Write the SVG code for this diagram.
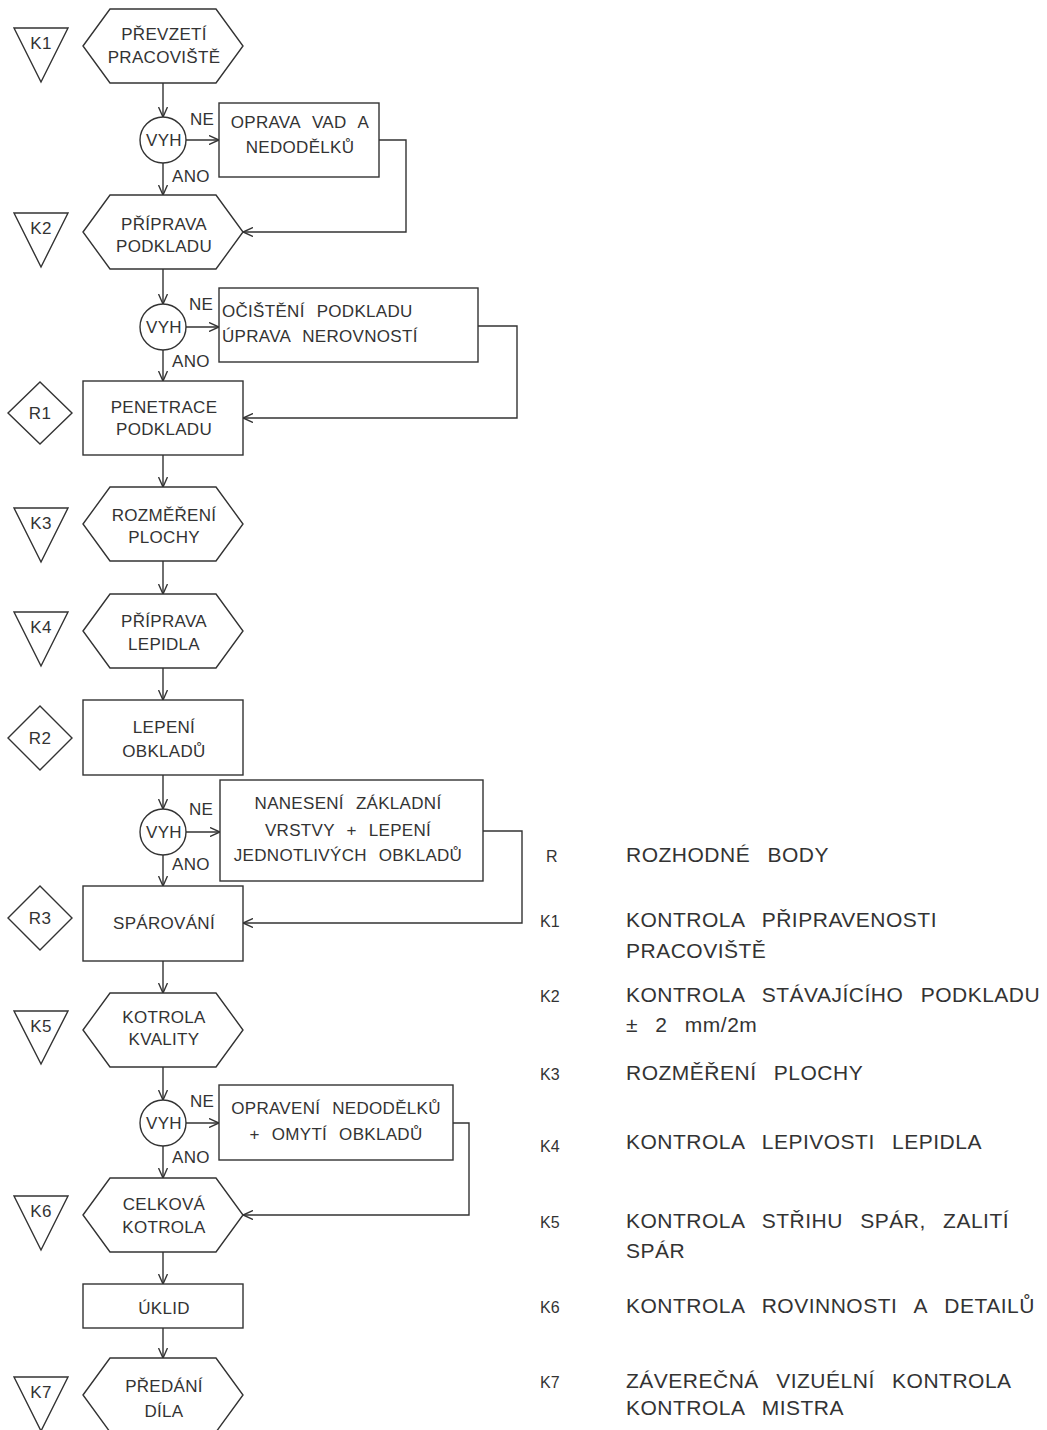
<svg xmlns="http://www.w3.org/2000/svg" width="1047" height="1430" viewBox="0 0 1047 1430">
<style>
.s{fill:#fff;stroke:#333;stroke-width:1.4}
.ln{fill:none;stroke:#333;stroke-width:1.4}
.t{font-family:"Liberation Sans",Arial,sans-serif;font-size:17px;fill:#333;text-anchor:middle;word-spacing:7px;letter-spacing:0.3px}
.l{text-anchor:start}
.lg{font-family:"Liberation Sans",Arial,sans-serif;font-size:21px;fill:#333;word-spacing:11px;letter-spacing:0.5px}
.lk{font-family:"Liberation Sans",Arial,sans-serif;font-size:16px;fill:#333}
</style>
<defs>
<marker id="a" viewBox="0 0 10 10" refX="10" refY="5" markerWidth="10" markerHeight="10" markerUnits="userSpaceOnUse" orient="auto">
<path d="M0,0.5 L10,5 L0,9.5" fill="none" stroke="#333" stroke-width="1.4"/>
</marker>
</defs>
<rect width="1047" height="1430" fill="#fff"/>
<g id="connectors" class="ln" marker-end="url(#a)">
<path d="M163,83 V117"/>
<path d="M186,140 H219"/>
<path d="M163,163 V195"/>
<path d="M379,140 H406 V232 H243"/>
<path d="M163,269 V304"/>
<path d="M186,327 H219"/>
<path d="M163,350 V381"/>
<path d="M478,326 H517 V418 H243"/>
<path d="M163,455 V487"/>
<path d="M163,561 V594"/>
<path d="M163,668 V700"/>
<path d="M163,775 V809"/>
<path d="M186,832 H220"/>
<path d="M163,855 V886"/>
<path d="M483,831 H522 V923 H243"/>
<path d="M163,961 V993"/>
<path d="M163,1067 V1100"/>
<path d="M186,1123 H219"/>
<path d="M163,1146 V1178"/>
<path d="M453,1123 H469 V1215 H243"/>
<path d="M163,1252 V1284"/>
<path d="M163,1328 V1358"/>
</g>
<g id="n-prevzeti"><polygon class="s" points="83,46 110,9 216,9 243,46 216,83 110,83"/><text class="t" x="164" y="40">PŘEVZETÍ</text><text class="t" x="164" y="63">PRACOVIŠTĚ</text></g>
<g id="k1"><polygon class="s" points="14,28 68,28 41,82"/><text class="t" x="41" y="49">K1</text></g>
<g id="vyh1"><circle class="s" cx="163" cy="140" r="23"/><text class="t" x="164" y="146">VYH</text><text class="t l" x="190" y="125">NE</text><text class="t l" x="172" y="182">ANO</text></g>
<g id="n-oprava"><rect class="s" x="219" y="103" width="160" height="74"/><text class="t" x="300" y="128">OPRAVA VAD A</text><text class="t" x="300" y="153">NEDODĚLKŮ</text></g>
<g id="n-priprava-podkladu"><polygon class="s" points="83,232 110,195 216,195 243,232 216,269 110,269"/><text class="t" x="164" y="230">PŘÍPRAVA</text><text class="t" x="164" y="252">PODKLADU</text></g>
<g id="k2"><polygon class="s" points="14,213 68,213 41,267"/><text class="t" x="41" y="234">K2</text></g>
<g id="vyh2"><circle class="s" cx="163" cy="327" r="23"/><text class="t" x="164" y="333">VYH</text><text class="t l" x="189" y="310">NE</text><text class="t l" x="172" y="367">ANO</text></g>
<g id="n-ocisteni"><rect class="s" x="219" y="288" width="259" height="74"/><text class="t l" x="222" y="317">OČIŠTĚNÍ PODKLADU</text><text class="t l" x="222" y="342">ÚPRAVA NEROVNOSTÍ</text></g>
<g id="n-penetrace"><rect class="s" x="83" y="381" width="160" height="74"/><text class="t" x="164" y="413">PENETRACE</text><text class="t" x="164" y="435">PODKLADU</text></g>
<g id="r1"><polygon class="s" points="8,413 40,382 72,413 40,444"/><text class="t" x="40" y="419">R1</text></g>
<g id="n-rozmereni"><polygon class="s" points="83,524 110,487 216,487 243,524 216,561 110,561"/><text class="t" x="164" y="521">ROZMĚŘENÍ</text><text class="t" x="164" y="543">PLOCHY</text></g>
<g id="k3"><polygon class="s" points="14,508 68,508 41,562"/><text class="t" x="41" y="529">K3</text></g>
<g id="n-priprava-lepidla"><polygon class="s" points="83,631 110,594 216,594 243,631 216,668 110,668"/><text class="t" x="164" y="627">PŘÍPRAVA</text><text class="t" x="164" y="650">LEPIDLA</text></g>
<g id="k4"><polygon class="s" points="14,612 68,612 41,666"/><text class="t" x="41" y="633">K4</text></g>
<g id="n-lepeni"><rect class="s" x="83" y="700" width="160" height="75"/><text class="t" x="164" y="733">LEPENÍ</text><text class="t" x="164" y="757">OBKLADŮ</text></g>
<g id="r2"><polygon class="s" points="8,738 40,706 72,738 40,770"/><text class="t" x="40" y="744">R2</text></g>
<g id="vyh3"><circle class="s" cx="163" cy="832" r="23"/><text class="t" x="164" y="838">VYH</text><text class="t l" x="189" y="815">NE</text><text class="t l" x="172" y="870">ANO</text></g>
<g id="n-naneseni"><rect class="s" x="220" y="780" width="263" height="101"/><text class="t" x="348" y="809">NANESENÍ ZÁKLADNÍ</text><text class="t" x="348" y="836">VRSTVY + LEPENÍ</text><text class="t" x="348" y="861">JEDNOTLIVÝCH OBKLADŮ</text></g>
<g id="n-sparovani"><rect class="s" x="83" y="886" width="160" height="75"/><text class="t" x="164" y="929">SPÁROVÁNÍ</text></g>
<g id="r3"><polygon class="s" points="8,918 40,886 72,918 40,950"/><text class="t" x="40" y="924">R3</text></g>
<g id="n-kotrola-kvality"><polygon class="s" points="83,1030 110,993 216,993 243,1030 216,1067 110,1067"/><text class="t" x="164" y="1023">KOTROLA</text><text class="t" x="164" y="1045">KVALITY</text></g>
<g id="k5"><polygon class="s" points="14,1011 68,1011 41,1064"/><text class="t" x="41" y="1032">K5</text></g>
<g id="vyh4"><circle class="s" cx="163" cy="1123" r="23"/><text class="t" x="164" y="1129">VYH</text><text class="t l" x="190" y="1107">NE</text><text class="t l" x="172" y="1163">ANO</text></g>
<g id="n-opraveni"><rect class="s" x="219" y="1085" width="234" height="75"/><text class="t" x="336" y="1114">OPRAVENÍ NEDODĚLKŮ</text><text class="t" x="336" y="1140">+ OMYTÍ OBKLADŮ</text></g>
<g id="n-celkova"><polygon class="s" points="83,1215 110,1178 216,1178 243,1215 216,1252 110,1252"/><text class="t" x="164" y="1210">CELKOVÁ</text><text class="t" x="164" y="1233">KOTROLA</text></g>
<g id="k6"><polygon class="s" points="14,1196 68,1196 41,1250"/><text class="t" x="41" y="1217">K6</text></g>
<g id="n-uklid"><rect class="s" x="83" y="1284" width="160" height="44"/><text class="t" x="164" y="1314">ÚKLID</text></g>
<g id="n-predani"><polygon class="s" points="83,1395 110,1358 216,1358 243,1395 216,1432 110,1432"/><text class="t" x="164" y="1392">PŘEDÁNÍ</text><text class="t" x="164" y="1417">DÍLA</text></g>
<g id="k7"><polygon class="s" points="14,1377 68,1377 41,1431"/><text class="t" x="41" y="1398">K7</text></g>
<g id="legend">
<text class="lk" x="546" y="862">R</text><text class="lg" x="626" y="862">ROZHODNÉ BODY</text>
<text class="lk" x="540" y="927">K1</text><text class="lg" x="626" y="927">KONTROLA PŘIPRAVENOSTI</text><text class="lg" x="626" y="958">PRACOVIŠTĚ</text>
<text class="lk" x="540" y="1002">K2</text><text class="lg" x="626" y="1002">KONTROLA STÁVAJÍCÍHO PODKLADU</text><text class="lg" x="626" y="1032">± 2 mm/2m</text>
<text class="lk" x="540" y="1080">K3</text><text class="lg" x="626" y="1080">ROZMĚŘENÍ PLOCHY</text>
<text class="lk" x="540" y="1152">K4</text><text class="lg" x="626" y="1149">KONTROLA LEPIVOSTI LEPIDLA</text>
<text class="lk" x="540" y="1228">K5</text><text class="lg" x="626" y="1228">KONTROLA STŘIHU SPÁR, ZALITÍ</text><text class="lg" x="626" y="1258">SPÁR</text>
<text class="lk" x="540" y="1313">K6</text><text class="lg" x="626" y="1313">KONTROLA ROVINNOSTI A DETAILŮ</text>
<text class="lk" x="540" y="1388">K7</text><text class="lg" x="626" y="1388">ZÁVEREČNÁ VIZUÉLNÍ KONTROLA</text><text class="lg" x="626" y="1415">KONTROLA MISTRA</text>
</g>
</svg>
